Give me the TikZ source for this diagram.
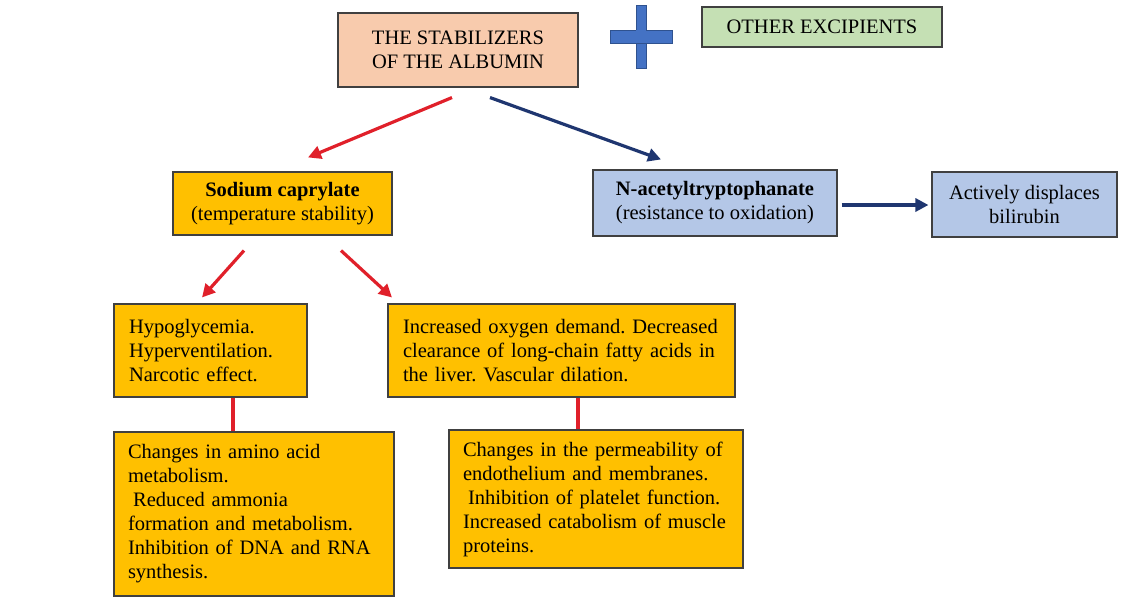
\documentclass[tikz,border=0pt]{standalone}
\usepackage{fontspec}
\setmainfont{Liberation Serif}
\usetikzlibrary{arrows.meta,calc}
\definecolor{peach}{HTML}{F8CBAD}
\definecolor{paleGreen}{HTML}{C5E0B4}
\definecolor{amber}{HTML}{FFC000}
\definecolor{paleBlue}{HTML}{B4C7E7}
\definecolor{plusBlue}{HTML}{4472C4}
\definecolor{plusEdge}{HTML}{2F528F}
\definecolor{redArrow}{HTML}{E0202A}
\definecolor{navyArrow}{HTML}{1F3670}
\definecolor{edgeGray}{HTML}{404040}
\tikzset{
  box/.style={draw=edgeGray, line width=1.1pt, rectangle, inner sep=0pt,
    font=\fontsize{20.5}{24}\selectfont\frenchspacing},
  redarr/.style={draw=redArrow, line width=3.2pt, -{Triangle[length=13pt,width=13pt]}},
  navyarr/.style={draw=navyArrow, line width=3.2pt, -{Triangle[length=13pt,width=13pt]}},
  redline/.style={draw=redArrow, line width=3.2pt},
}
\begin{document}
\begin{tikzpicture}[x=1pt,y=-1pt]
\useasboundingbox (0,0) rectangle (1144,608);
\node[box, fill=peach, minimum width=240pt, minimum height=74pt, align=center] (top) at (458,50)
  {THE STABILIZERS\\OF THE ALBUMIN};
\node[box, fill=paleGreen, minimum width=240pt, minimum height=40pt, align=center] (other) at (822,27)
  {OTHER EXCIPIENTS};
% plus sign
\path[fill=plusBlue, draw=plusEdge, line width=0.6pt] (636,5) rectangle (646,68);
\path[fill=plusBlue, draw=plusEdge, line width=0.6pt] (610,30) rectangle (672,43);
\path[fill=plusBlue] (636.4,30.4) rectangle (645.6,42.6);

\node[box, fill=amber, minimum width=219pt, minimum height=63pt, align=center] (sodium) at (282.5,203.5)
  {\textbf{Sodium caprylate}\\(temperature stability)};
\node[box, fill=paleBlue, minimum width=244pt, minimum height=66pt, align=center] (nacetyl) at (715,203)
  {\textbf{N-acetyltryptophanate}\\(resistance to oxidation)};
\node[box, fill=paleBlue, minimum width=185pt, minimum height=65pt, align=center] (bili) at (1024.5,204.5)
  {Actively displaces\\bilirubin};

\node[box, fill=amber, minimum width=193pt, minimum height=93pt, text width=163pt, align=left] (hypo) at (210.5,350.5)
  {Hypoglycemia.\\Hyperventilation.\\Narcotic effect.};
\node[box, fill=amber, minimum width=347pt, minimum height=93pt, text width=317pt, align=left] (oxy) at (561.5,350.5)
  {Increased oxygen demand. Decreased\\clearance of long-chain fatty acids in\\the liver. Vascular dilation.};

\node[box, fill=amber, minimum width=280pt, minimum height=164pt, text width=252pt, align=left] (amino) at (254,514)
  {Changes in amino acid\\metabolism.\\\hspace*{0.25em}Reduced ammonia\\formation and metabolism.\\Inhibition of DNA and RNA\\synthesis.};
\node[box, fill=amber, minimum width=294pt, minimum height=138pt, text width=266pt, align=left] (perm) at (596,499)
  {Changes in the permeability of\\endothelium and membranes.\\\hspace*{0.25em}Inhibition of platelet function.\\Increased catabolism of muscle\\proteins.};

% connectors
\draw[redarr] ($(top.south)+(-6,10)$) -- ($(sodium.north)+(25.5,-14)$);
\draw[navyarr] ($(top.south)+(32,10)$) -- ($(nacetyl.north)+(-54,-10)$);
\draw[navyarr] ($(nacetyl.east)+(4,2)$) -- ($(bili.west)+(-3,0.5)$);
\draw[redarr] ($(sodium.south)+(-38.5,15)$) -- ($(hypo.north)+(-8.5,-6)$);
\draw[redarr] ($(sodium.south)+(58.5,15)$) -- ($(oxy.north)+(-169.5,-6)$);
\draw[redline] ($(hypo.south)+(22.5,0)$) -- ($(amino.north)+(-21,0)$);
\draw[redline] ($(oxy.south)+(16.5,0)$) -- ($(perm.north)+(-18,0)$);
\end{tikzpicture}
\end{document}
